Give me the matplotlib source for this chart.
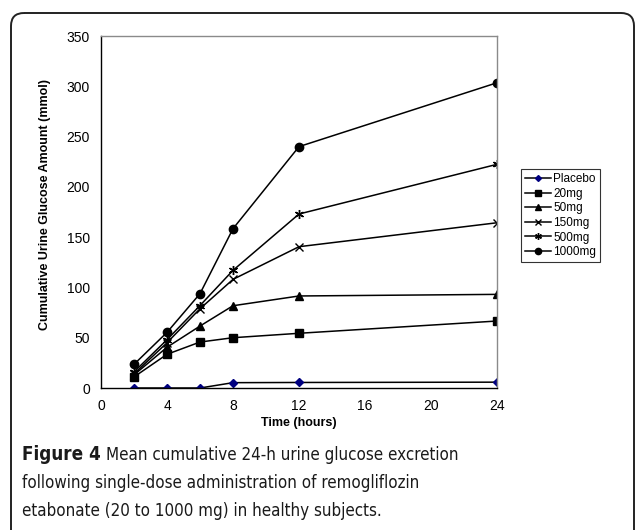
import matplotlib
matplotlib.use("Agg")
import matplotlib.pyplot as plt
from matplotlib.patches import FancyBboxPatch

hours = [2, 4, 6, 8, 12, 24]
placebo = [0, 0, 0, 5.3, 5.5, 5.8]
mg20 = [11, 33.5, 45.7, 50, 54.4, 66.6]
mg50 = [13, 40.5, 61.6, 81.8, 91.5, 93.1]
mg150 = [14, 45, 78.8, 108, 140.5, 164.3]
mg500 = [16, 48, 82, 117, 173, 222.4]
mg1000 = [23.5, 55.3, 93.8, 158.4, 240, 303.5]
series_names = ["Placebo", "20mg", "50mg", "150mg", "500mg", "1000mg"]
x_ticks = [0, 4, 8, 12, 16, 20, 24]
y_ticks = [0, 50, 100, 150, 200, 250, 300, 350]

W, H = 636, 530
fig = plt.figure(figsize=(W / 100, H / 100), dpi=100)
plt.rcParams['font.family'] = ['Liberation Sans', 'DejaVu Sans']

# background frame
bg = fig.add_axes([0, 0, 1, 1])
bg.set_xlim(0, W)
bg.set_ylim(H, 0)
bg.axis('off')
bg.add_patch(FancyBboxPatch((11, 13), 623, 560,
                            boxstyle="round,pad=0,rounding_size=13",
                            fill=False, edgecolor='#222222', linewidth=1.4))

ax = fig.add_axes([101 / W, 1 - 388 / H, (497 - 101) / W, (388 - 36) / H])
styles = [
    dict(marker='D', markersize=4, color='#000080', mfc='#000080', mec='#000080'),
    dict(marker='s', markersize=5.5),
    dict(marker='^', markersize=6),
    dict(marker='x', markersize=5.5, mew=1),
    dict(marker=(6, 2, 0), markersize=6.5, mew=1),
    dict(marker='o', markersize=6),
]
data = [placebo, mg20, mg50, mg150, mg500, mg1000]
handles = []
for name, vals, st in zip(series_names, data, styles):
    kw = dict(color='black', linewidth=1.1)
    kw.update(st)
    if name == "Placebo":
        kw['color'] = 'black'
    h, = ax.plot(hours, vals, label=name, **kw)
    handles.append(h)

ax.set_xlim(0, 24)
ax.set_ylim(0, 350)
ax.set_xticks(x_ticks)
ax.set_yticks(y_ticks)
ax.tick_params(length=0, labelsize=10, pad=8)
for s in ['top', 'right']:
    ax.spines[s].set_color('#8a8a8a')
for s in ['left', 'bottom']:
    ax.spines[s].set_color('black')
for s in ax.spines.values():
    s.set_linewidth(1.0)
ax.set_xlabel("Time (hours)", fontsize=9, fontweight='bold', labelpad=3)

fig.text(45 / W, 1 - 205 / H, "Cumulative Urine Glucose Amount (mmol)",
         rotation=90, ha='center', va='center', fontsize=9, fontweight='bold')

leg = fig.legend(handles=handles, loc='upper left',
                 bbox_to_anchor=(521 / W, 1 - 169 / H),
                 bbox_transform=fig.transFigure, borderaxespad=0,
                 fontsize=8.5, frameon=True, fancybox=False,
                 handlelength=2.2, handletextpad=0.2, labelspacing=0.22,
                 borderpad=0.35, markerscale=0.75)
leg.get_frame().set_edgecolor('black')
leg.get_frame().set_linewidth(0.8)

cap_font = ['DejaVu Sans']
cap_color = '#1a1a1a'
bold_size = 13.5
cap_size = 12.2
lines = ["Mean cumulative 24-h urine glucose excretion",
         "following single-dose administration of remogliflozin",
         "etabonate (20 to 1000 mg) in healthy subjects."]
y0 = 460
t = fig.text(22 / W, 1 - y0 / H, "Figure 4", fontsize=bold_size, fontweight='bold',
             family=cap_font, fontstretch='condensed',
             va='baseline', ha='left', color=cap_color)
fig.canvas.draw()
bb = t.get_window_extent()
for i, ln in enumerate(lines):
    x = (bb.x1 + 5) / W if i == 0 else 22 / W
    fig.text(x, 1 - (y0 + 28 * i) / H, ln, fontsize=cap_size,
             family=cap_font, fontstretch='condensed',
             va='baseline', ha='left', color=cap_color)

fig.savefig("out.png", dpi=100)
